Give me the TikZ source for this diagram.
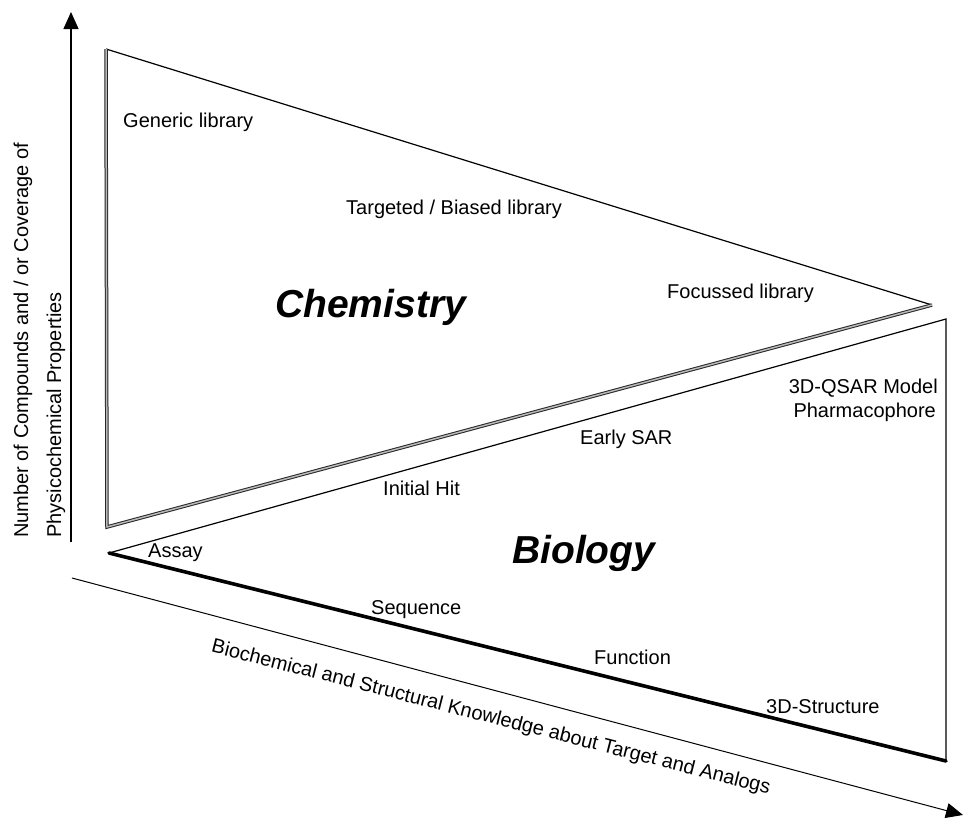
\documentclass[tikz,border=0pt]{standalone}
\usepackage{fontspec}
\setmainfont{Liberation Sans}
\usetikzlibrary{arrows.meta}
\begin{document}
\begin{tikzpicture}[x=1pt,y=-1pt,
  lbl/.style={inner sep=0pt,font=\fontsize{20}{24}\selectfont},
  big/.style={inner sep=0pt,font=\fontsize{39}{44}\selectfont\bfseries\itshape},
  axis/.style={line width=1.2pt,-{Triangle[length=17pt,width=15pt]}},
  dbl/.style={draw=black!85,line width=1pt,double=gray!55,double distance=1.5pt,line join=miter},
  thinedge/.style={line width=1.2pt,line join=miter},
  thickedge/.style={line width=3.6pt,line cap=round}]
\path[use as bounding box,fill=white] (0,0) rectangle (964,819);
% axes
\coordinate (yb) at (71,542);
\coordinate (yt) at (71,12);
\coordinate (xb) at (72,578);
\coordinate (xt) at (963,815);
\draw[axis] (yb) -- (yt);
\draw[axis,line width=1pt] (xb) -- (xt);
% chemistry triangle
\coordinate (ctl) at (106,49);
\coordinate (cbl) at (107,527);
\coordinate (ctip) at (932,305);
\draw[thinedge] (ctl) -- (ctip);
\draw[dbl] (ctl) -- (cbl) -- (ctip);
% biology triangle
\coordinate (bl) at (109,553);
\coordinate (btr) at (946,319);
\coordinate (bbr) at (946,761);
\draw[thinedge] (bl) -- (btr) -- (bbr);
\draw[thickedge] (bl) -- (bbr);
% labels
\node[lbl,anchor=base west] (gen) at (123,127) {Generic library};
\node[lbl,anchor=base west] (tgt) at (346,214) {Targeted / Biased library};
\node[lbl,anchor=base west] (foc) at (667,298) {Focussed library};
\node[big,anchor=base west] (chem) at (275,317) {Chemistry};
\node[lbl,anchor=base east] (qsar) at (938,393) {3D-QSAR Model};
\node[lbl,anchor=base east] (pharm) at (936,417) {Pharmacophore};
\node[lbl,anchor=base west] (esar) at (580,444) {Early SAR};
\node[lbl,anchor=base west] (hit) at (383,495) {Initial Hit};
\node[big,anchor=base west] (bio) at (512,563) {Biology};
\node[lbl,anchor=base west] (assay) at (148,557) {Assay};
\node[lbl,anchor=base west] (seq) at (371,614) {Sequence};
\node[lbl,anchor=base west] (func) at (594,664) {Function};
\node[lbl,anchor=base west] (struct) at (766,713) {3D-Structure};
\node[lbl,anchor=base west,rotate=90] (ylab1) at (28,538) {Number of Compounds and / or Coverage of};
\node[lbl,anchor=base west,rotate=90] (ylab2) at (61,538) {Physicochemical Properties};
\node[lbl,rotate=-14.3] (xlab) at (491,718) {Biochemical and Structural Knowledge about Target and Analogs};
\end{tikzpicture}
\end{document}
